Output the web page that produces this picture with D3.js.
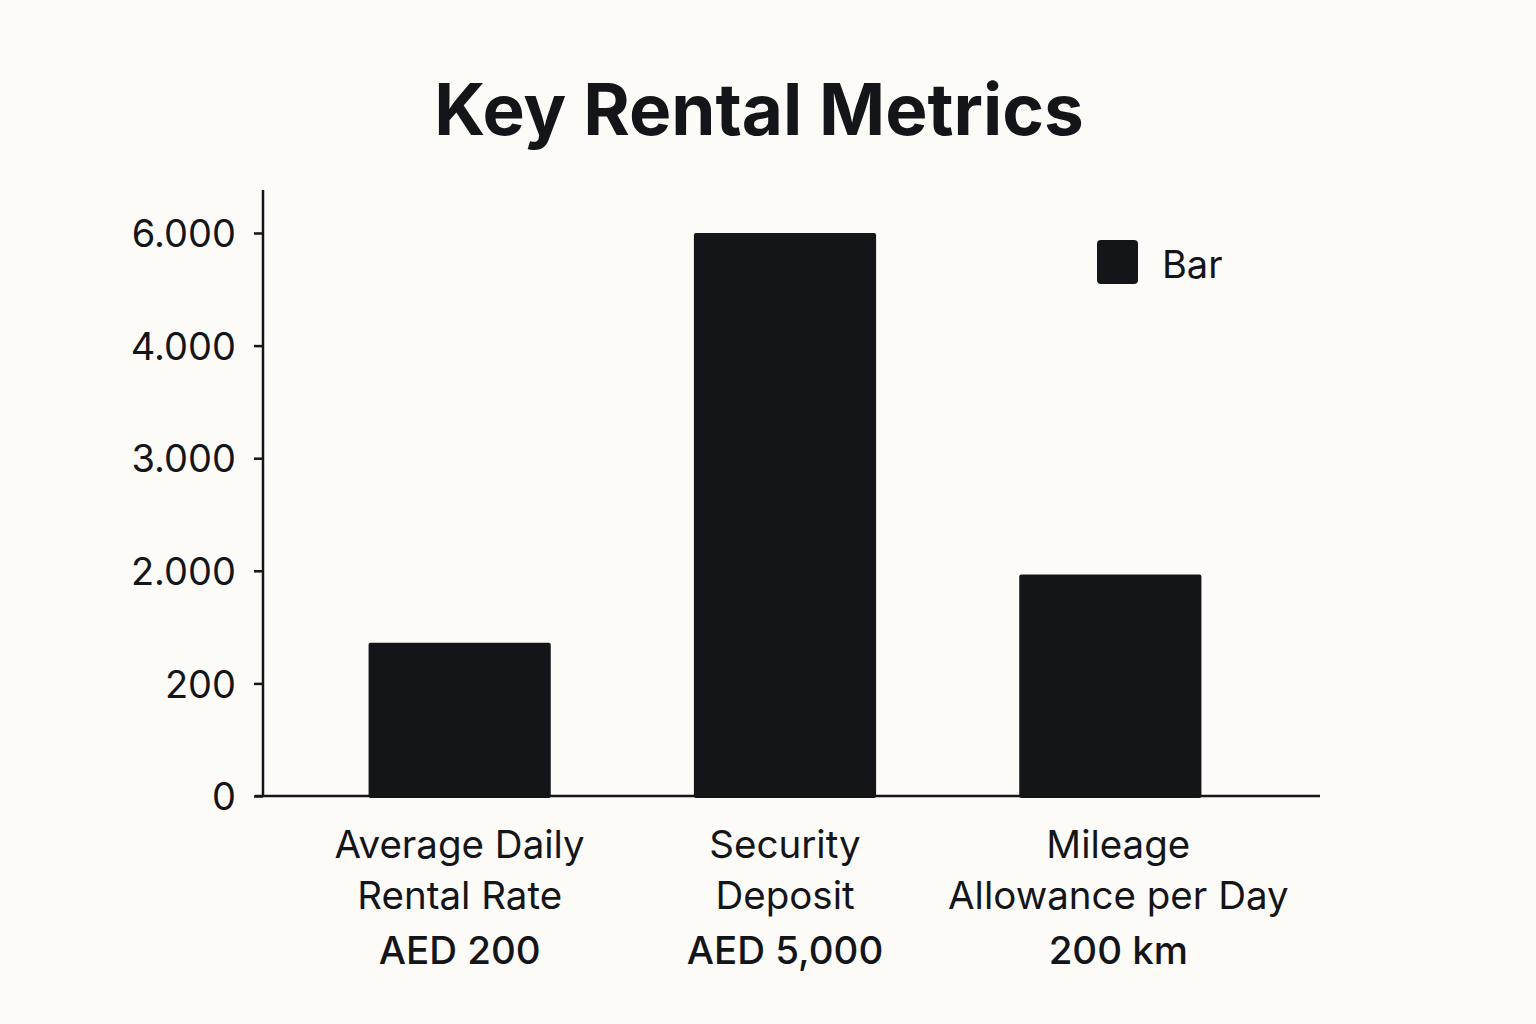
<!DOCTYPE html>
<html lang="en">
    <head>
        <meta charset="utf-8">
        <title>Key Rental Metrics</title>
        <script type="text/javascript" src="https://cdn.jsdelivr.net/npm/d3@7"></script>
        <style type="text/css">
            body { margin: 0; background: #fcfbf8; }
            text { font-family: Inter, "Noto Sans", sans-serif; fill: #141518; }
        </style>
    </head>
    <body>
        <script type="text/javascript">
            // data
            var categories = [
                ["Average Daily", "Rental Rate", "AED 200"],
                ["Security", "Deposit", "AED 5,000"],
                ["Mileage", "Allowance per Day", "200 km"]
            ];
            var values = [850, 6000, 1940];
            var tickValues = [0, 200, 2000, 3000, 4000, 6000];
            var tickLabels = ["0", "200", "2.000", "3.000", "4.000", "6.000"];
            var seriesName = "Bar";

            var w = 1536, h = 1024;
            var ink = "#141518";

            var svg = d3.select("body").append("svg")
                .attr("width", w)
                .attr("height", h);

            svg.append("text")
                .attr("x", 759)
                .attr("y", 135)
                .attr("text-anchor", "middle")
                .attr("font-size", 71)
                .attr("font-weight", 700)
                .text("Key Rental Metrics");

            // the axis spaces its ticks evenly, so the scale is piecewise
            var y = d3.scaleLinear()
                .domain(tickValues)
                .range(d3.range(tickValues.length).map(function(i) {
                    return 796 - i * (796 - 233) / (tickValues.length - 1);
                }));

            var x = d3.scaleBand()
                .domain(d3.range(categories.length))
                .range([297, 1273])
                .paddingInner(0.44)
                .paddingOuter(0.22);

            // bars
            svg.selectAll("rect.bar")
                .data(values)
                .enter()
                .append("rect")
                .attr("class", "bar")
                .attr("x", function(d, i) { return x(i); })
                .attr("y", function(d) { return y(d); })
                .attr("width", x.bandwidth())
                .attr("height", function(d) { return y(0) - y(d) + 2; })
                .attr("rx", 2)
                .attr("fill", ink);

            // y axis
            var yAxis = d3.axisLeft(y)
                .tickValues(tickValues)
                .tickFormat(function(d, i) { return tickLabels[i]; })
                .tickSize(9)
                .tickPadding(18);
            var gy = svg.append("g")
                .attr("transform", "translate(263,0)")
                .call(yAxis);
            gy.select(".domain").remove();
            gy.selectAll(".tick line").attr("stroke", ink).attr("stroke-width", 2.5);
            gy.selectAll(".tick text")
                .attr("font-size", 38)
                .attr("font-family", "Inter, sans-serif")
                .attr("fill", ink)
                .attr("dy", "0.36em");
            svg.append("line")
                .attr("x1", 263).attr("x2", 263)
                .attr("y1", 190).attr("y2", y(0))
                .attr("stroke", ink).attr("stroke-width", 2.5);
            svg.append("line")
                .attr("x1", 255).attr("x2", 1320)
                .attr("y1", y(0)).attr("y2", y(0))
                .attr("stroke", ink).attr("stroke-width", 2.5);

            // category labels
            var labels = svg.selectAll("text.cat")
                .data(categories)
                .enter()
                .append("text")
                .attr("class", "cat")
                .attr("text-anchor", "middle")
                .attr("font-size", 38.5)
                .attr("transform", function(d, i) {
                    return "translate(" + (x(i) + x.bandwidth() / 2 + (i == 2 ? 8 : 0)) + ",858)";
                });
            labels.selectAll("tspan")
                .data(function(d) { return d; })
                .enter()
                .append("tspan")
                .attr("x", 0)
                .attr("y", function(d, j) { return j == 2 ? 106 : j * 51; })
                .attr("font-weight", function(d, j) { return j == 2 ? 500 : 400; })
                .text(function(d) { return d; });

            // legend
            svg.append("rect")
                .attr("x", 1097).attr("y", 240)
                .attr("width", 41).attr("height", 44)
                .attr("rx", 4)
                .attr("fill", ink);
            svg.append("text")
                .attr("x", 1162).attr("y", 278)
                .attr("font-size", 38)
                .text(seriesName);
        </script>
    </body>
</html>
